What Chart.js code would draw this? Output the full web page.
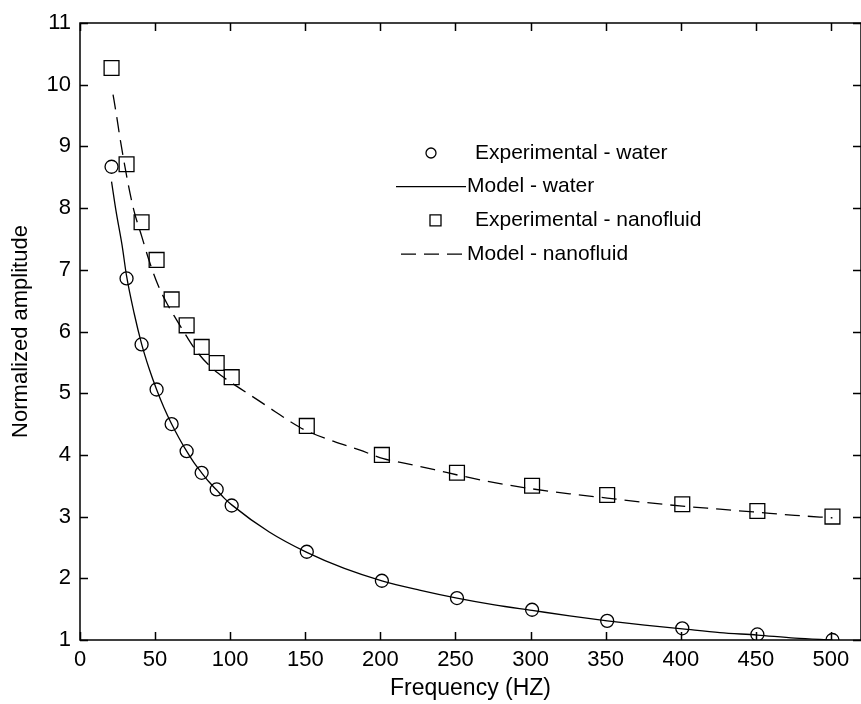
<!DOCTYPE html>
<html>
<head>
<meta charset="utf-8">
<script src="https://cdn.jsdelivr.net/npm/chart.js@4.4.1/dist/chart.umd.min.js"></script>
<style>
  html, body { margin: 0; padding: 0; background: #fff; }
  #wrap { width: 861px; height: 704px; position: relative; }
</style>
</head>
<body>
<div id="wrap"><canvas id="ampChart"></canvas></div>
<script>
// Measured points (frequency in Hz)
const expFreq = [21, 31, 41, 51, 61, 71, 81, 91, 101, 151, 201, 251, 301, 351, 401, 451, 501];
const expWater = [8.67, 6.86, 5.79, 5.06, 4.5, 4.06, 3.71, 3.44, 3.18, 2.43, 1.96, 1.68, 1.49, 1.31, 1.19, 1.09, 1.0];
const expNano = [10.27, 8.71, 7.77, 7.16, 6.52, 6.1, 5.75, 5.49, 5.26, 4.47, 4.0, 3.71, 3.5, 3.35, 3.2, 3.09, 3.0];

// Model curves
const waterModelFreq = [21, 24, 28, 31, 36, 41, 46, 51, 56, 61, 66, 71, 76, 81, 86, 91, 96, 101, 126, 151, 176, 201, 226, 251, 276, 301, 326, 351, 376, 401, 426, 451, 476, 501];
const waterModel = [8.43, 7.95, 7.4, 6.9, 6.3, 5.8, 5.4, 5.06, 4.76, 4.5, 4.27, 4.06, 3.87, 3.71, 3.56, 3.43, 3.3, 3.19, 2.75, 2.42, 2.16, 1.96, 1.81, 1.68, 1.57, 1.48, 1.39, 1.31, 1.24, 1.18, 1.12, 1.08, 1.03, 1.0];
const nanoModelFreq = [22, 24, 27, 32, 36, 41, 46, 52, 58, 64, 71, 77, 86, 96, 107, 119, 130, 140, 150, 169, 186, 202, 219, 236, 254, 276, 301, 326, 351, 376, 401, 426, 451, 476, 501];
const nanoModel = [9.84, 9.55, 9.08, 8.4, 7.95, 7.55, 7.15, 6.75, 6.45, 6.2, 5.92, 5.7, 5.45, 5.25, 5.07, 4.88, 4.7, 4.54, 4.4, 4.22, 4.08, 3.94, 3.85, 3.76, 3.66, 3.55, 3.45, 3.37, 3.3, 3.23, 3.17, 3.12, 3.07, 3.02, 2.98];

const xTicksStep = 50;
const yTicksStep = 1;

const pairs = (xs, ys) => xs.map((x, i) => ({ x, y: ys[i] }));
const FONT = '"Liberation Sans", Arial, sans-serif';

// MATLAB style box with inward ticks on all four sides
const frameTicks = {
    id: 'frameTicks',
    afterDatasetsDraw(chart) {
        const { ctx, chartArea: a, scales: { x, y } } = chart;
        ctx.save();
        ctx.strokeStyle = '#000';
        ctx.lineWidth = 1.5;
        ctx.strokeRect(a.left, a.top, a.right - a.left, a.bottom - a.top);
        ctx.beginPath();
        x.ticks.forEach(t => {
            const px = Math.round(x.getPixelForValue(t.value)) + 0.5;
            ctx.moveTo(px, a.bottom); ctx.lineTo(px, a.bottom - 8);
            ctx.moveTo(px, a.top); ctx.lineTo(px, a.top + 8);
        });
        y.ticks.forEach(t => {
            const py = Math.round(y.getPixelForValue(t.value)) + 0.5;
            ctx.moveTo(a.left, py); ctx.lineTo(a.left + 8, py);
            ctx.moveTo(a.right, py); ctx.lineTo(a.right - 8, py);
        });
        ctx.stroke();
        ctx.restore();
    }
};

// Legend inside the axes, no frame
const insideLegend = {
    id: 'insideLegend',
    afterDraw(chart) {
        const ctx = chart.ctx;
        ctx.save();
        ctx.font = '21px ' + FONT;
        ctx.textBaseline = 'middle';
        ctx.fillStyle = '#000';
        ctx.strokeStyle = '#000';
        ctx.lineWidth = 1.3;
        chart.data.datasets.forEach((ds, i) => {
            const y = 153 + i * 33.7;
            ctx.setLineDash([]);
            if (ds.showLine) {
                ctx.setLineDash(ds.borderDash || []);
                ctx.beginPath();
                ctx.moveTo(ds.borderDash ? 401 : 396, y); ctx.lineTo(466, y);
                ctx.stroke();
                ctx.setLineDash([]);
                ctx.fillText(ds.label, 467, y);
            } else {
                ctx.beginPath();
                if (ds.pointStyle === 'rect') ctx.rect(430, y - 5.5, 11, 11);
                else ctx.arc(431, y, 5, 0, Math.PI * 2);
                ctx.stroke();
                ctx.fillText(ds.label, 475, y);
            }
        });
        ctx.restore();
    }
};

new Chart(document.getElementById('ampChart').getContext('2d'), {
    type: 'scatter',
    data: {
        datasets: [
            {
                label: 'Experimental - water',
                data: pairs(expFreq, expWater),
                pointStyle: 'circle', pointRadius: 6.5,
                borderColor: '#000', backgroundColor: 'rgba(0,0,0,0)', borderWidth: 1.3,
                showLine: false
            },
            {
                label: 'Model - water',
                data: pairs(waterModelFreq, waterModel),
                borderColor: '#000', borderWidth: 1.3, pointRadius: 0,
                showLine: true, cubicInterpolationMode: 'monotone'
            },
            {
                label: 'Experimental - nanofluid',
                data: pairs(expFreq, expNano),
                pointStyle: 'rect', pointRadius: 10.5,
                borderColor: '#000', backgroundColor: 'rgba(0,0,0,0)', borderWidth: 1.3,
                showLine: false
            },
            {
                label: 'Model - nanofluid',
                data: pairs(nanoModelFreq, nanoModel),
                borderColor: '#000', borderWidth: 1.3, pointRadius: 0,
                borderDash: [15, 8],
                showLine: true, cubicInterpolationMode: 'monotone'
            }
        ]
    },
    options: {
        responsive: true,
        maintainAspectRatio: false,
        animation: false,
        layout: { autoPadding: false, padding: { top: 23, right: 0, left: 0, bottom: 0 } },
        plugins: { legend: { display: false }, tooltip: { enabled: false } },
        scales: {
            x: {
                type: 'linear', min: 0, max: 520,
                grid: { display: false, drawTicks: false },
                border: { display: false },
                ticks: { stepSize: xTicksStep, includeBounds: false, padding: 7, color: '#000', font: { family: FONT, size: 22 }, maxRotation: 0 },
                title: { display: true, text: 'Frequency (HZ)', color: '#000', font: { family: FONT, size: 23 }, padding: { top: 2, bottom: 2 } },
                afterFit: s => { s.height = 64; }
            },
            y: {
                type: 'linear', min: 1, max: 11,
                grid: { display: false, drawTicks: false },
                border: { display: false },
                ticks: { stepSize: yTicksStep, padding: 9, color: '#000', font: { family: FONT, size: 22 } },
                title: { display: true, text: 'Normalized amplitude', color: '#000', font: { family: FONT, size: 22 }, padding: { top: 8, bottom: 2 } },
                afterFit: s => { s.width = 80; }
            }
        }
    },
    plugins: [frameTicks, insideLegend]
});
</script>
</body>
</html>
